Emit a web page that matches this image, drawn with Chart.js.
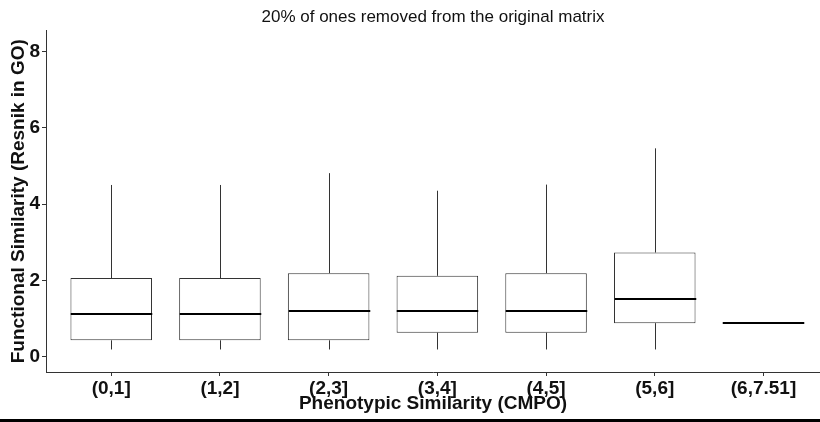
<!DOCTYPE html>
<html>
<head>
<meta charset="utf-8">
<script src="https://cdn.jsdelivr.net/npm/chart.js@4"></script>
<style>
  body { margin: 0; background: #fff; }
  #wrap { width: 820px; height: 419px; }
  #band { width: 820px; height: 3px; background: #000; }
</style>
</head>
<body>
<div id="wrap"><canvas id="myChart" width="820" height="419"></canvas></div>
<div id="band"></div>
<script>
// bins of phenotypic similarity
const categories = ["(0,1]", "(1,2]", "(2,3]", "(3,4]", "(4,5]", "(5,6]", "(6,7.51]"];
// box stats
const whiskerLow = [0.19, 0.19, 0.19, 0.19, 0.19, 0.19, 0.88];
const q1 = [0.43, 0.43, 0.43, 0.63, 0.63, 0.88, 0.88];
const median = [1.13, 1.13, 1.20, 1.20, 1.20, 1.52, 0.88];
const q3 = [2.06, 2.06, 2.19, 2.12, 2.19, 2.73, 0.88];
const whiskerHigh = [4.50, 4.50, 4.81, 4.35, 4.51, 5.46, 0.88];
const yTicks = [0, 2, 4, 6, 8];

const font = "'Liberation Sans', Arial, sans-serif";

// whiskers + medians, drawn with the chart scales
const boxExtras = {
  id: "boxExtras",
  afterDatasetsDraw(chart) {
    const { ctx, scales } = chart;
    const x = scales.x, y = scales.y;
    const meta = chart.getDatasetMeta(0);
    ctx.save();
    categories.forEach((c, i) => {
      const cx = Math.round(x.getPixelForValue(i)) + 0.5;
      const w = meta.data[i].width;
      ctx.strokeStyle = "#333";
      ctx.lineWidth = 1;
      if (whiskerHigh[i] > q3[i]) {
        ctx.beginPath();
        ctx.moveTo(cx, y.getPixelForValue(q3[i]));
        ctx.lineTo(cx, y.getPixelForValue(whiskerHigh[i]));
        ctx.stroke();
      }
      if (whiskerLow[i] < q1[i]) {
        ctx.beginPath();
        ctx.moveTo(cx, y.getPixelForValue(q1[i]));
        ctx.lineTo(cx, y.getPixelForValue(whiskerLow[i]));
        ctx.stroke();
      }
      ctx.strokeStyle = "#000";
      ctx.lineWidth = 2;
      const my = Math.round(y.getPixelForValue(median[i]));
      ctx.beginPath();
      ctx.moveTo(cx - w / 2, my);
      ctx.lineTo(cx + w / 2, my);
      ctx.stroke();
    });
    ctx.restore();
  },
};

const ctx = document.getElementById("myChart");
new Chart(ctx, {
  type: "bar",
  data: {
    datasets: [
      {
        data: categories.map((c, i) => ({ x: i, y: [q1[i], q3[i]] })),
        backgroundColor: "#fff",
        borderColor: "#333",
        borderWidth: 1,
        borderSkipped: false,
        categoryPercentage: 1,
        barPercentage: 0.75,
      },
    ],
  },
  options: {
    responsive: false,
    animation: false,
    layout: { padding: 0 },
    plugins: {
      legend: { display: false },
      tooltip: { enabled: false },
      title: {
        display: true,
        text: "20% of ones removed from the original matrix",
        fullSize: false,
        color: "#111",
        font: { family: font, size: 17, weight: "normal" },
        padding: { top: 7, bottom: 3 },
      },
    },
    scales: {
      x: {
        type: "linear",
        offset: false,
        min: -0.6,
        max: 6.52,
        afterBuildTicks: (scale) => {
          scale.ticks = categories.map((c, i) => ({ value: i }));
        },
        afterFit: (scale) => {
          scale.height = 47;
        },
        ticks: {
          callback: (v) => categories[v],
          color: "#111",
          font: { family: font, size: 19, weight: "bold" },
          padding: 1,
          maxRotation: 0,
          autoSkip: false,
        },
        grid: { display: true, offset: false, drawOnChartArea: false, drawTicks: true, tickLength: 4, tickColor: "#333", color: "#333" },
        border: { display: true, color: "#333", width: 1 },
        title: {
          display: true,
          text: "Phenotypic Similarity (CMPO)",
          color: "#111",
          font: { family: font, size: 19, weight: "bold" },
          padding: { top: 0, bottom: 4 },
        },
      },
      y: {
        min: -0.4,
        max: 8.55,
        afterBuildTicks: (scale) => {
          scale.ticks = yTicks.map((v) => ({ value: v }));
        },
        afterFit: (scale) => {
          scale.width = 46;
        },
        ticks: {
          color: "#111",
          font: { family: font, size: 19, weight: "bold" },
          padding: 2,
        },
        grid: { display: true, drawOnChartArea: false, drawTicks: true, tickLength: 4, tickColor: "#333", color: "#333" },
        border: { display: true, color: "#333", width: 1 },
        title: {
          display: true,
          text: "Functional Similarity (Resnik in GO)",
          color: "#111",
          font: { family: font, size: 19, weight: "bold" },
          padding: { top: 7, bottom: 0 },
        },
      },
    },
  },
  plugins: [boxExtras],
});
</script>
</body>
</html>
